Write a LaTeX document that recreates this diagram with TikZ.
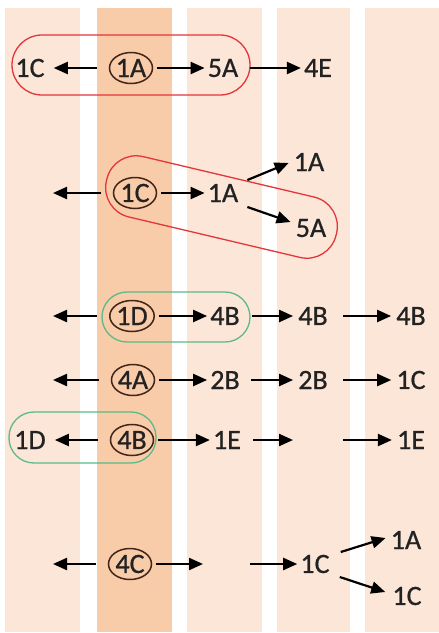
\documentclass[tikz,border=0pt]{standalone}
\usepackage{fontspec}
\setmainfont{Carlito}
\newfontfamily\lblfont{Carlito}[FakeBold=0.7]
\usetikzlibrary{arrows.meta,shapes.geometric}

\definecolor{stripelight}{HTML}{FBE6D8}
\definecolor{stripemid}{HTML}{F8CBA9}
\definecolor{inkdark}{HTML}{222222}
\definecolor{ringbrown}{HTML}{402518}
\definecolor{groupred}{HTML}{E4353B}
\definecolor{groupgreen}{HTML}{5BBA8A}

\tikzset{
  lbl/.style={inner sep=2pt, text=inkdark, font=\lblfont\fontsize{28}{30}\selectfont},
  ring/.style={lbl, ellipse, draw=ringbrown, line width=1.5pt, inner sep=0pt,
    minimum width=43pt, minimum height=31pt},
  arr/.style={draw=black, line width=2.2pt, -{Triangle[length=14pt,width=12pt]}},
  redgroup/.style={draw=groupred, line width=1.3pt, rounded corners=30pt},
  greengroup/.style={draw=groupgreen, line width=1.3pt, rounded corners=25pt},
}

\begin{document}
\begin{tikzpicture}[x=1pt,y=-1pt]
\useasboundingbox (0,0) rectangle (439,633);
\fill[white] (0,0) rectangle (439,633);

% vertical bands
\fill[stripelight] (5,8) rectangle (80,632);
\fill[stripemid]   (97,8) rectangle (172,632);
\fill[stripelight] (187,8) rectangle (262,632);
\fill[stripelight] (277,8) rectangle (350,632);
\fill[stripelight] (365,8) rectangle (439,632);

% group outlines
\node[redgroup, minimum width=238pt, minimum height=60pt] (gA) at (131,65) {};
\node[redgroup, rotate=-13.3, minimum width=236pt, minimum height=62pt] (gB) at (221.5,207) {};
\node[greengroup, minimum width=148pt, minimum height=50pt] (gC) at (176,317) {};
\node[greengroup, minimum width=147pt, minimum height=51pt] (gD) at (82.5,437.5) {};

% row 1
\node[lbl]  (r1l) at (30,68) {1C};
\node[ring] (r1c) at (131,68) {1A};
\node[lbl]  (r1a) at (223,68) {5A};
\node[lbl]  (r1b) at (318,68) {4E};
\draw[arr, shorten <=12pt, shorten >=7pt] (r1c) -- (r1l);
\draw[arr, shorten <=4pt, shorten >=1pt] (r1c) -- (r1a);
\draw[arr, shorten <=10pt, shorten >=1pt] (r1a) -- (r1b);

% row 2
\coordinate (r2l) at (53,193);
\node[ring] (r2c) at (135,193) {1C};
\node[lbl]  (r2a) at (223,193) {1A};
\node[lbl]  (r2u) at (309,162) {1A};
\node[lbl]  (r2d) at (311,228) {5A};
\draw[arr, shorten <=12pt] (r2c) -- (r2l);
\draw[arr, shorten <=4pt, shorten >=1pt] (r2c) -- (r2a);
\draw[arr] ([shift={(7,-13)}]r2a.east) -- ([shift={(-3,1)}]r2u.west);
\draw[arr] ([shift={(7,14)}]r2a.east) -- ([shift={(-3,-6)}]r2d.west);

% row 3
\coordinate (r3l) at (53,316);
\node[ring] (r3c) at (132,316) {1D};
\node[lbl]  (r3a) at (225,316) {4B};
\node[lbl]  (r3b) at (313,316) {4B};
\node[lbl]  (r3e) at (411,316) {4B};
\draw[arr, shorten <=12pt] (r3c) -- (r3l);
\draw[arr, shorten <=4pt, shorten >=1pt] (r3c) -- (r3a);
\draw[arr, shorten <=10pt, shorten >=3pt] (r3a) -- (r3b);
\draw[arr, shorten <=13pt, shorten >=3pt] (r3b) -- (r3e);

% row 4
\coordinate (r4l) at (53,380);
\node[ring] (r4c) at (133,380) {4A};
\node[lbl]  (r4a) at (225,380) {2B};
\node[lbl]  (r4b) at (313,380) {2B};
\node[lbl]  (r4e) at (411,380) {1C};
\draw[arr, shorten <=12pt] (r4c) -- (r4l);
\draw[arr, shorten <=4pt, shorten >=1pt] (r4c) -- (r4a);
\draw[arr, shorten <=9pt, shorten >=3pt] (r4a) -- (r4b);
\draw[arr, shorten <=13pt, shorten >=3pt] (r4b) -- (r4e);

% row 5
\node[lbl]  (r5l) at (30,440) {1D};
\node[ring] (r5c) at (132,440) {4B};
\node[lbl]  (r5a) at (227,440) {1E};
\coordinate (r5p) at (293,440);
\coordinate (r5q) at (343,440);
\node[lbl]  (r5e) at (411,440) {1E};
\draw[arr, shorten <=12pt, shorten >=7pt] (r5c) -- (r5l);
\draw[arr, shorten <=4pt, shorten >=1pt] (r5c) -- (r5a);
\draw[arr, shorten <=10pt] (r5a) -- (r5p);
\draw[arr, shorten >=3pt] (r5q) -- (r5e);

% row 6
\coordinate (r6l) at (53,564);
\node[ring] (r6c) at (130,564) {4C};
\coordinate (r6p) at (203,564);
\coordinate (r6q) at (250,564);
\node[lbl]  (r6b) at (315,564) {1C};
\node[lbl]  (r6u) at (406,540) {1A};
\node[lbl]  (r6d) at (407,596) {1C};
\draw[arr, shorten <=12pt] (r6c) -- (r6l);
\draw[arr, shorten <=4pt] (r6c) -- (r6p);
\draw[arr, shorten >=1pt] (r6q) -- (r6b);
\draw[arr] ([shift={(9,-12)}]r6b.east) -- ([shift={(-3,-2)}]r6u.west);
\draw[arr] ([shift={(8,13)}]r6b.east) -- ([shift={(-5,-4)}]r6d.west);
\end{tikzpicture}
\end{document}
